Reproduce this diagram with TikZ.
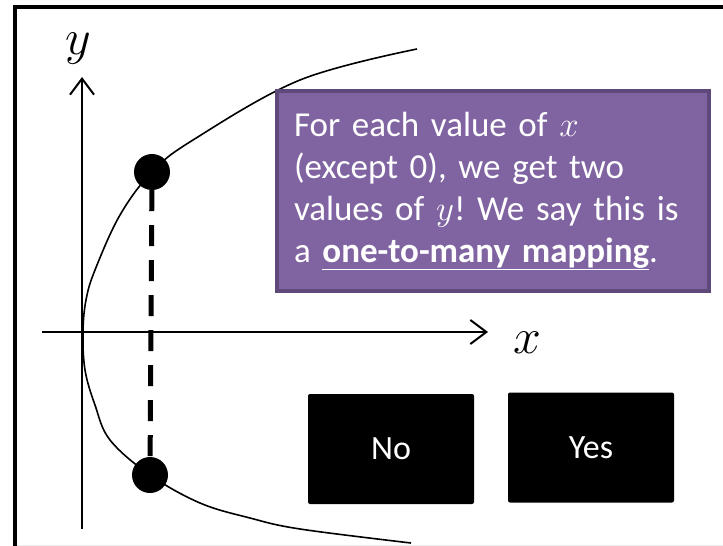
\RequirePackage{fix-cm}
\documentclass[tikz,border=0pt]{standalone}
\usepackage{fontspec}
\setmainfont{Carlito}
\usepackage{xcolor}
\usepackage{tikz}
\usetikzlibrary{arrows.meta}
\frenchspacing

\definecolor{notefill}{RGB}{128,100,162}
\definecolor{noteedge}{RGB}{95,73,122}

\begin{document}
\begin{tikzpicture}[x=1pt, y=-1pt,
    axis/.style={line width=2pt, -{Straight Barb[length=16pt, width=24pt]}},
    curve/.style={line width=1.6pt},
    dot/.style={circle, fill=black, minimum size=36pt, inner sep=0pt},
    dashline/.style={line width=5pt, dash pattern=on 21pt off 14pt},
    note/.style={rectangle, draw=noteedge, line width=4pt, fill=notefill, text=white, align=left, text width=398pt, inner xsep=17pt, minimum height=200pt, font=\fontsize{35}{42}\selectfont},
    button/.style={rectangle, fill=black, rounded corners=2pt, minimum width=166pt, minimum height=110pt, text=white, font=\fontsize{34}{40}\selectfont},
    axislabel/.style={font=\fontsize{50}{60}\selectfont}
]
\useasboundingbox (0,0) rectangle (723,546);
\clip (0,0) rectangle (723,546);

% frame
\draw[line width=4.5pt, line join=miter] (15,560) -- (15,7) -- (740,7);
\draw[gray!15, line width=1pt] (17,545.5) -- (723,545.5);

% axes
\coordinate (yfoot) at (82,529);
\coordinate (ytip) at (82,77);
\coordinate (xstart) at (42,332);
\coordinate (xtip) at (488,332);
\draw[axis] (yfoot) -- (ytip);
\draw[axis] (xstart) -- (xtip);
\node[axislabel] (ylabel) at (78,49) {$y$};
\node[axislabel] (xlabel) at (527,343) {$x$};

% sideways parabola
\draw[curve] plot[smooth, tension=0.6] coordinates {
    (417,49) (300,80) (193,140) (152,172) (120,215) (95,270) (86,300)
    (83,332) (85,370) (95,405) (110,440) (150,475) (200,503) (250,518)
    (300,529) (411,543)};

\node[dot] (upper) at (152,172) {};
\node[dot] (lower) at (150,475) {};
\draw[dashline] (upper) -- (lower);

\node[note] (remark) at (493,191) {For each value of $x$\\(except 0), we get two\\values of $y$! We say this is\\a \underline{\textbf{one-to-many mapping}}.};

\node[button] (no) at (391,449) {No};
\node[button] (yes) at (591,447.5) {Yes};

\end{tikzpicture}
\end{document}
